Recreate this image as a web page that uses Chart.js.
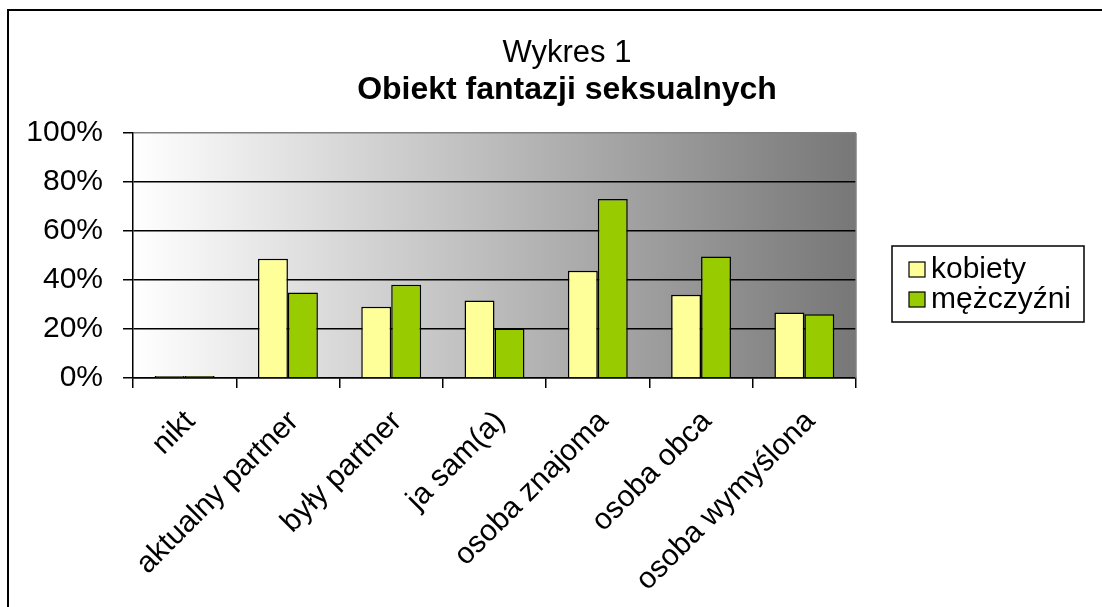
<!DOCTYPE html>
<html>
<head>
<meta charset="utf-8">
<script src="https://cdn.jsdelivr.net/npm/chart.js@4/dist/chart.umd.min.js"></script>
<style>
  html, body { margin: 0; padding: 0; background: #fff; }
  #wrap { width: 1102px; height: 607px; }
</style>
</head>
<body>
<div id="wrap"><canvas id="chart" width="1102" height="607"></canvas></div>
<script>
// --- data
const categories = ["nikt", "aktualny partner", "były partner", "ja sam(a)", "osoba znajoma", "osoba obca", "osoba wymyślona"];
const kobiety    = [0.8, 48.7, 29.1, 31.6, 43.8, 34.0, 26.7];
const mezczyzni  = [0.8, 34.9, 38.1, 20.2, 73.1, 49.6, 26.0];
const yTicks     = [0, 20, 40, 60, 80, 100];
const seriesNames = ["kobiety", "mężczyźni"];
const seriesColors = ["#FFFF99", "#99CC00"];

const FONT = "'Liberation Sans', Arial, sans-serif";

// frame, gradient plot background and plot border
const backdrop = {
  id: "backdrop",
  beforeDraw(chart) {
    const { ctx, chartArea: a } = chart;
    ctx.save();
    const g = ctx.createLinearGradient(a.left, 0, a.right, 0);
    g.addColorStop(0, "#ffffff");
    g.addColorStop(1, "#777777");
    ctx.fillStyle = g;
    ctx.fillRect(a.left, a.top, a.right - a.left, a.bottom - a.top);
    // outer chart frame (only left/top visible)
    ctx.strokeStyle = "#000";
    ctx.lineWidth = 2;
    ctx.beginPath();
    ctx.moveTo(8, 620);
    ctx.lineTo(8, 10);
    ctx.lineTo(1110, 10);
    ctx.stroke();
    ctx.restore();
  },
  afterDraw(chart) {
    const { ctx, chartArea: a } = chart;
    ctx.save();
    ctx.strokeStyle = "#808080";
    ctx.lineWidth = 1.5;
    ctx.beginPath();
    ctx.moveTo(a.right, a.top);
    ctx.lineTo(a.right, a.bottom);
    ctx.stroke();
    ctx.restore();
  }
};

// boxed legend on the right
const boxLegend = {
  id: "boxLegend",
  afterDraw(chart) {
    const { ctx } = chart;
    const x = 892, y = 246, w = 192, h = 76;
    ctx.save();
    ctx.fillStyle = "#fff";
    ctx.fillRect(x, y, w, h);
    ctx.strokeStyle = "#000";
    ctx.lineWidth = 1.5;
    ctx.strokeRect(x, y, w, h);
    ctx.font = "30px " + FONT;
    ctx.textBaseline = "alphabetic";
    chart.data.datasets.forEach((ds, i) => {
      const sy = y + 16 + i * 30;
      ctx.fillStyle = ds.backgroundColor;
      ctx.fillRect(x + 17, sy, 16, 15);
      ctx.strokeStyle = "#000";
      ctx.lineWidth = 1.2;
      ctx.strokeRect(x + 17, sy, 16, 15);
      ctx.fillStyle = "#000";
      ctx.fillText(ds.label, x + 39, sy + 16);
    });
    ctx.restore();
  }
};

new Chart(document.getElementById("chart"), {
  type: "bar",
  data: {
    labels: categories,
    datasets: [
      { label: seriesNames[0], data: kobiety, backgroundColor: seriesColors[0], borderColor: "#000", borderWidth: 1.5 },
      { label: seriesNames[1], data: mezczyzni, backgroundColor: seriesColors[1], borderColor: "#000", borderWidth: 1.5 }
    ]
  },
  options: {
    responsive: false,
    animation: false,
    // negative right padding pushes the title centre to the right, like the original
    layout: { padding: { left: 8, top: 0, right: -24, bottom: 0 } },
    datasets: { bar: { categoryPercentage: 0.58, barPercentage: 1.0 } },
    plugins: {
      legend: { display: false },
      tooltip: { enabled: false },
      title: {
        display: true,
        text: "Wykres 1",
        color: "#000",
        font: { family: FONT, size: 31, weight: "normal", lineHeight: 1.0 },
        padding: { top: 38, bottom: 5 }
      },
      subtitle: {
        display: true,
        text: "Obiekt fantazji seksualnych",
        color: "#000",
        font: { family: FONT, size: 32, weight: "bold", lineHeight: 1.0 },
        padding: { top: 0, bottom: 27 }
      }
    },
    scales: {
      x: {
        afterFit(s) { s.height = 229; },
        grid: { offset: true, drawOnChartArea: false, drawTicks: true, tickLength: 10, color: "#000", lineWidth: 1.5 },
        border: { color: "#000", width: 1.5 },
        ticks: {
          autoSkip: false, minRotation: 45, maxRotation: 45, padding: 16, labelOffset: 6,
          color: "#000", font: { family: FONT, size: 30 }
        }
      },
      y: {
        min: 0, max: 100,
        afterFit(s) { s.width = 125; },
        afterBuildTicks(s) { s.ticks = yTicks.map(v => ({ value: v })); },
        grid: {
          color: c => (c.tick && c.tick.value === 100 ? "#808080" : "#000"),
          tickColor: "#000",
          lineWidth: 1.5, tickLength: 10
        },
        border: { color: "#000", width: 1.5 },
        ticks: {
          padding: 20, color: "#000", font: { family: FONT, size: 30 },
          callback: v => v + "%"
        }
      },
      yR: {
        type: "linear", position: "right", display: true,
        afterFit(s) { s.width = 270; },
        grid: { display: false, drawTicks: false },
        border: { display: false },
        ticks: { display: false }
      }
    }
  },
  plugins: [backdrop, boxLegend]
});
</script>
</body>
</html>
